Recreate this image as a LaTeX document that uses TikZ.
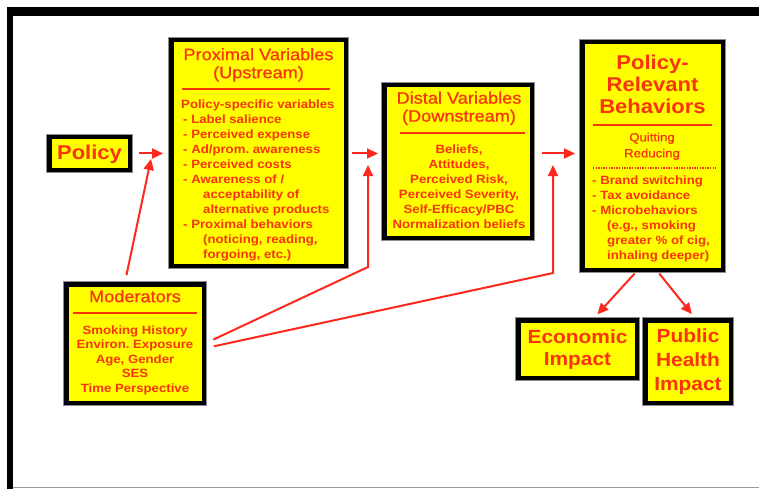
\documentclass[tikz,border=0pt]{standalone}
\usepackage{fontspec}
\setmainfont{Liberation Sans}[FakeStretch=1.1]
\newfontfamily\titlefont{Liberation Sans}[FakeStretch=1.1, FakeBold=0.8]
\frenchspacing
\usetikzlibrary{arrows.meta}
\definecolor{boxyellow}{RGB}{255,255,0}
\definecolor{txtred}{RGB}{250,52,10}
\definecolor{lnred}{RGB}{255,40,30}
\tikzset{
  box/.style={draw=black, line width=4.5pt, fill=boxyellow, inner sep=0pt,
    preaction={draw=black!45, line width=6pt}},
  title/.style={text=txtred, inner sep=0pt, align=center, anchor=north,
    font=\fontsize{16.5}{18}\selectfont\titlefont},
  big/.style={text=txtred, inner sep=0pt, align=center,
    font=\fontsize{20}{22}\selectfont\bfseries},
  body/.style={text=txtred, inner sep=0pt, anchor=north west, align=left,
    font=\fontsize{12}{15}\selectfont\bfseries},
  cbody/.style={body, anchor=north, align=center},
  rule/.style={draw=txtred, line width=1.6pt},
  arr/.style={draw=lnred, line width=2pt,
    -{Triangle[length=11pt,width=10pt]}},
}
\begin{document}
\begin{tikzpicture}[x=1pt,y=-1pt]
\useasboundingbox (0,0) rectangle (759,489);
% outer frame
\fill[black] (7,7) rectangle (770,16);
\fill[black] (7,7) rectangle (13,495);
\draw[black!40, line width=1pt] (13,487) -- (770,487);

% boxes (outer edge minus the border width)
\node[box, minimum width=85-4.5, minimum height=37-4.5] (policy) at (89.5,153.5) {};
\node[box, minimum width=179-4.5, minimum height=230-4.5] (prox) at (258.5,153) {};
\node[box, minimum width=152-4.5, minimum height=157-4.5] (dist) at (458,161.5) {};
\node[box, minimum width=145-4.5, minimum height=232-4.5] (beh) at (652.5,156) {};
\node[box, minimum width=142-4.5, minimum height=123-4.5] (mod) at (135,343.5) {};
\node[box, minimum width=123-4.5, minimum height=62-4.5] (econ) at (577.5,349) {};
\node[box, minimum width=90-4.5, minimum height=87-4.5] (health) at (688,361.5) {};

% Policy
\node[big] (tpolicy) at (89.5,154) {Policy};

% Proximal variables
\node[title] (tprox) at (258.5,48) {Proximal Variables\\(Upstream)};
\draw[rule] (182,89) -- (330,89);
\node[body] (bprox) at (181,100) {Policy-specific variables\\
\hspace*{2pt}- Label salience\\
\hspace*{2pt}- Perceived expense\\
\hspace*{2pt}- Ad/prom. awareness\\
\hspace*{2pt}- Perceived costs\\
\hspace*{2pt}- Awareness of /\\
\hspace*{22pt}acceptability of\\
\hspace*{22pt}alternative products\\
\hspace*{2pt}- Proximal behaviors\\
\hspace*{22pt}(noticing, reading,\\
\hspace*{22pt}forgoing, etc.)};

% Distal variables
\node[title] (tdist) at (459,91.5) {Distal Variables\\(Downstream)};
\draw[rule] (400,133) -- (525,133);
\node[cbody] (bdist) at (459,145) {Beliefs,\\Attitudes,\\Perceived Risk,\\Perceived Severity,\\Self-Efficacy/PBC\\Normalization beliefs};

% Policy-relevant behaviors
\node[big, anchor=north] (tbeh) at (652.5,55) {Policy-\\Relevant\\Behaviors};
\draw[rule] (593,125) -- (712,125);
\node[cbody, font=\fontsize{12}{16}\selectfont\titlefont] (qbeh) at (652,132.5) {Quitting\\Reducing};
\draw[draw=txtred, line width=1.6pt, dash pattern=on 1.4pt off 1.2pt] (593,168) -- (716,168);
\node[body] (bbeh) at (592,175.5) {- Brand switching\\
- Tax avoidance\\
- Microbehaviors\\
\hspace*{15pt}(e.g., smoking\\
\hspace*{15pt}greater \% of cig,\\
\hspace*{15pt}inhaling deeper)};

% Moderators
\node[title] (tmod) at (135,290) {Moderators};
\draw[rule] (73,313) -- (197,313);
\node[cbody, font=\fontsize{12}{14.5}\selectfont\bfseries] (bmod) at (135,325.5) {Smoking History\\Environ. Exposure\\Age, Gender\\SES\\Time Perspective};

% Impacts
\node[big, font=\fontsize{19}{22}\selectfont\bfseries] (tecon) at (577.5,350) {Economic\\Impact};
\node[big, font=\fontsize{19}{24}\selectfont\bfseries] (thealth) at (688,362) {Public\\Health\\Impact};

% connectors
\coordinate (tipP) at (151,159);
\coordinate (kneeD) at (368,267);
\coordinate (tipD) at (368,165);
\coordinate (kneeB) at (553,273);
\coordinate (tipB) at (553,165);

\draw[arr, shorten <=7pt, shorten >=6pt] (policy.east) -- (policy.east -| prox.west);
\draw[arr, shorten <=4pt, shorten >=4pt] (prox.east |- policy.east) -- (dist.west |- policy.east);
\draw[arr, shorten <=8pt, shorten >=5pt] (dist.east |- policy.east) -- (beh.west |- policy.east);
\draw[arr, shorten <=7pt] (mod.north -| 125,0) -- (tipP);
\draw[arr, shorten <=8pt] (mod.east |- 0,343) -- (kneeD) -- (tipD);
\draw[arr, shorten <=8pt] (mod.east |- 0,348) -- (kneeB) -- (tipB);
\draw[arr, shorten <=2pt, shorten >=5pt] (beh.south -| 636,0) -- (econ.north -| 594,0);
\draw[arr, shorten <=2pt, shorten >=5pt] (beh.south -| 658,0) -- (health.north -| 695,0);
\end{tikzpicture}
\end{document}
